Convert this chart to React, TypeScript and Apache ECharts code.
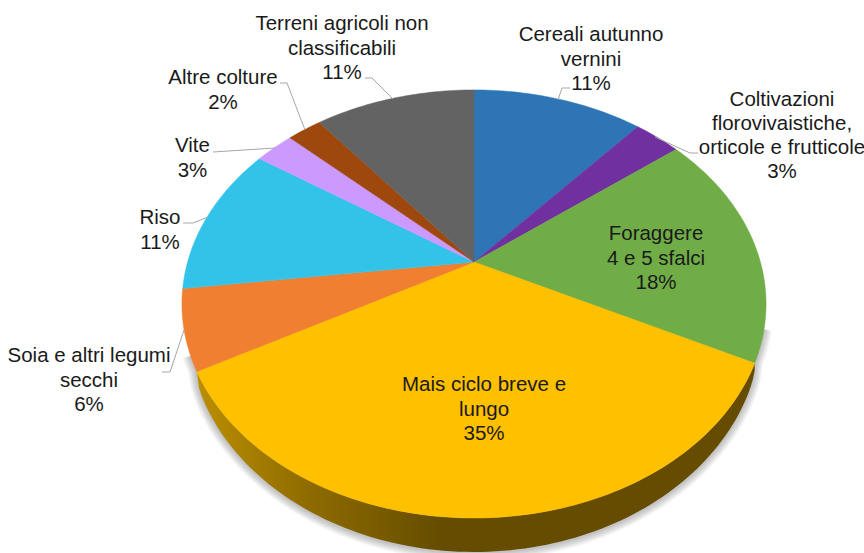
import React, { useEffect, useRef } from "react";
import * as echarts from "echarts";

const categories = [
  "Cereali autunno\nvernini",
  "Coltivazioni\nflorovivaistiche,\norticole e frutticole",
  "Foraggere\n4 e 5 sfalci",
  "Mais ciclo breve e\nlungo",
  "Soia e altri legumi\nsecchi",
  "Riso",
  "Vite",
  "Altre colture",
  "Terreni agricoli non\nclassificabili",
];
const shares = [11.4, 3.1, 17.9, 34.6, 6.0, 11.4, 2.6, 2.3, 10.7];
const percentLabels = ["11%", "3%", "18%", "35%", "6%", "11%", "3%", "2%", "11%"];
const colors = ["#2e75b6", "#7030a0", "#70ad47", "#ffc000", "#f07f32", "#33c3e8", "#cc99ff", "#9e480e", "#636363"];

const labelCenters = [
  [591, 58], [782, 134.5], [656, 257], [484, 408], [89, 379], [160, 229], [192.5, 157], [223, 89], [342, 47],
];
const leaders = [
  [[570, 88], [562, 88], [558, 100]],
  [[698, 153], [690, 153], [655, 137]],
  null,
  null,
  [[162, 372], [170, 372], [184, 330]],
  [[183, 223], [193, 223], [208, 217]],
  [[213, 152], [275, 148]],
  [[280, 83], [287, 83], [305, 130]],
  [[365, 78], [372, 78], [393, 99]],
];
const shadowLayers = [8, 7, 6, 5, 4, 3, 2, 1];

const CX = 474;
const CY = 262;
const A = 286.4;
const B = 205.8;
const P = 0.196;
const WALL_DEPTH = 34;
const WALL_MID_X = 476;
const WALL_HALF = 279;
const total = shares.reduce((a, b) => a + b, 0);
const starts = shares.map((_, i) => shares.slice(0, i).reduce((a, b) => a + b, 0));
const maisIndex = 3;

function project(share: number): number[] {
  const t = (share / total) * Math.PI * 2;
  const u = Math.sin(t);
  const v = Math.cos(t);
  const w = 1 + P * v;
  return [CX + (A * u) / w, CY - (B * v) / w];
}

function arc(from: number, to: number): number[][] {
  const n = Math.max(6, Math.ceil((to - from) * 3));
  const pts: number[][] = [];
  for (let i = 0; i <= n; i++) pts.push(project(from + ((to - from) * i) / n));
  return pts;
}

function wallDepth(x: number): number {
  const r = (x - WALL_MID_X) / WALL_HALF;
  return WALL_DEPTH * Math.pow(Math.max(0, 1 - r * r), 0.25);
}

export default function App() {
  const ref = useRef<HTMLDivElement>(null);
  useEffect(() => {
    const chart = echarts.init(ref.current!, null, { renderer: "svg" });
    const wallFill = new echarts.graphic.LinearGradient(
      198, 0, 440, 0,
      [
        { offset: 0, color: "#bb8e00" },
        { offset: 0.45, color: "#8f6c00" },
        { offset: 1, color: "#654c00" },
      ],
      true
    );
    chart.setOption({
      animation: false,
      backgroundColor: "#ffffff",
      series: [
        {
          type: "custom",
          coordinateSystem: "none",
          silent: true,
          z: 0,
          data: shadowLayers.map((k) => [k]),
          renderItem: (_p: any, api: any) => {
            const k = api.value(0);
            const from = starts[maisIndex] - 2.5;
            const to = starts[maisIndex] + shares[maisIndex] + 1.2;
            const outer = arc(from, to).map(([x, y]) => {
              const yy = y + wallDepth(x);
              const dx = x - CX;
              const dy = yy - CY;
              const len = Math.hypot(dx, dy);
              return [x + (dx / len) * k, yy + (dy / len) * k + 1];
            });
            return {
              type: "polygon",
              shape: { points: [[CX, CY], ...outer] },
              style: { fill: "rgba(0,0,0,0.03)" },
            };
          },
        },
        {
          type: "custom",
          coordinateSystem: "none",
          silent: true,
          z: 1,
          data: [[starts[maisIndex], shares[maisIndex]]],
          renderItem: (_p: any, api: any) => {
            const from = api.value(0);
            const to = from + api.value(1);
            const rim = arc(from, to);
            const lower = rim.map(([x, y]) => [x, y + wallDepth(x)]).reverse();
            return {
              type: "polygon",
              shape: { points: rim.concat(lower) },
              style: { fill: wallFill },
            };
          },
        },
        {
          type: "custom",
          coordinateSystem: "none",
          silent: true,
          z: 2,
          data: shares.map((v, i) => [starts[i], v]),
          renderItem: (p: any, api: any) => {
            const from = api.value(0);
            const to = from + api.value(1);
            return {
              type: "polygon",
              shape: { points: [[CX, CY], ...arc(from, to)] },
              style: { fill: colors[p.dataIndex], stroke: colors[p.dataIndex], lineWidth: 0.5 },
            };
          },
        },
      ],
      graphic: {
        elements: [
          ...leaders.flatMap((pts) =>
            pts
              ? [{
                  type: "polyline",
                  z: 5,
                  silent: true,
                  shape: { points: pts },
                  style: { stroke: "#a6a6a6", lineWidth: 1, fill: "none" },
                }]
              : []
          ),
          ...categories.map((c, i) => ({
            type: "text",
            z: 6,
            silent: true,
            x: labelCenters[i][0],
            y: labelCenters[i][1],
            style: {
              text: `${c}\n${percentLabels[i]}`,
              fontFamily: "Liberation Sans",
              fontSize: 20.5,
              lineHeight: 24.3,
              fill: "#1a1a1a",
              align: "center",
              verticalAlign: "middle",
            },
          })),
        ],
      },
    });
    return () => chart.dispose();
  }, []);
  return <div ref={ref} style={{ position: "fixed", left: 0, top: 0, width: 864, height: 553 }} />;
}
